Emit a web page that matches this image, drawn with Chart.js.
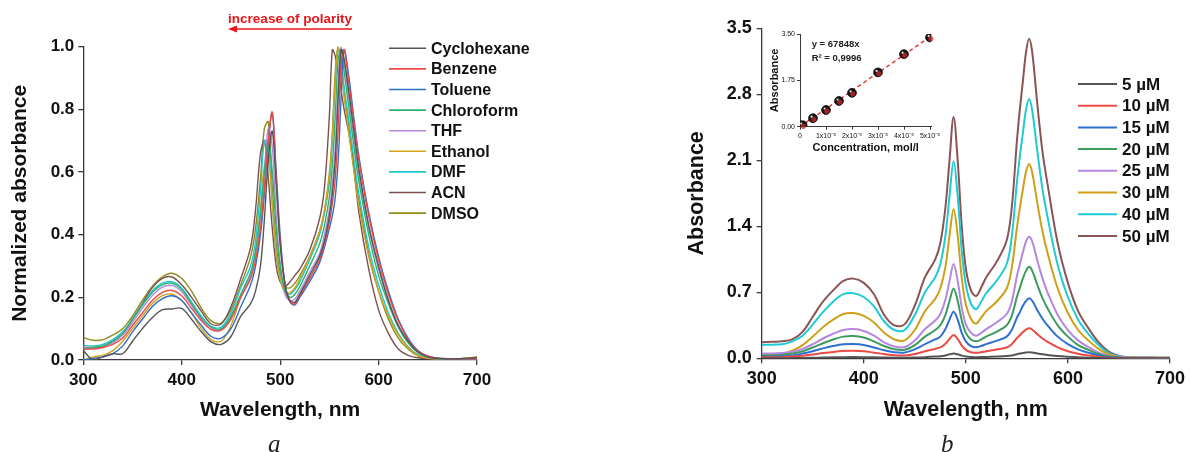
<!DOCTYPE html>
<html>
<head>
<meta charset="utf-8">
<script src="https://cdn.jsdelivr.net/npm/chart.js@4.4.1/dist/chart.umd.min.js"></script>
<style>
  html, body { margin: 0; padding: 0; background: #fff; }
  #wrap { position: relative; width: 1190px; height: 452px; overflow: hidden; }
  canvas { position: absolute; }
  .lbl { position: absolute; font-family: "Liberation Serif", "DejaVu Serif", serif; font-style: italic; font-size: 25px; color: #222; line-height: 1; }
</style>
</head>
<body>
<div id="wrap">
  <canvas id="chartA" width="680" height="452" style="left:0;top:0"></canvas>
  <canvas id="chartB" width="510" height="452" style="left:680px;top:0"></canvas>
  <canvas id="inset" width="180" height="135" style="left:765px;top:25px"></canvas>
  <div class="lbl" style="left:268px;top:431px">a</div>
  <div class="lbl" style="left:941px;top:431px">b</div>
</div>
<script>
const FONT = '"Liberation Sans", Arial, sans-serif';

// shared wavelength grid, nm
const wavelengths = [300,310,320,330,340,350,360,370,380,390,400,410,420,430,440,
  450,460,470, 475,480,484,488,492,496,500, 505,510,515,520, 530,540,545,550,
  553,556,559,562,565, 570,575,580, 590,600,610,620,630,640,650,660,680,700];

// ---- panel a: normalized absorbance in different solvents
const solvents = ['Cyclohexane','Benzene','Toluene','Chloroform','THF','Ethanol','DMF','ACN','DMSO'];
const solventColors = ['#555555','#ec4a45','#2f6fd0','#2db36e','#b487e0','#d2a21c','#1cc9d2','#7d5050','#8f8c1a'];

const cyclohexane = [0.03,0.0,0.01,0.02,0.02,0.06,0.1,0.135,0.16,0.163,0.165,0.13,0.09,0.058,0.05,
  0.075,0.14,0.18, 0.22,0.3,0.45,0.64,0.73,0.56,0.37, 0.24,0.19,0.185,0.21, 0.27,0.33,0.38,0.46,
  0.53,0.64,0.84,0.99,0.96, 0.85,0.73,0.61, 0.43,0.3,0.19,0.11,0.06,0.025,0.01,0.005,0.004,0.008];
const benzene = [0.035,0.035,0.04,0.05,0.07,0.11,0.15,0.19,0.215,0.222,0.205,0.165,0.125,0.097,0.095,
  0.13,0.2,0.26, 0.32,0.42,0.55,0.7,0.79,0.58,0.38, 0.24,0.185,0.18,0.205, 0.26,0.32,0.37,0.44,
  0.5,0.58,0.74,0.95,0.99, 0.88,0.76,0.64, 0.46,0.32,0.21,0.125,0.065,0.028,0.012,0.006,0.004,0.004];
const toluene = [0.0,0.005,0.01,0.02,0.045,0.09,0.13,0.17,0.195,0.205,0.19,0.15,0.11,0.075,0.07,
  0.1,0.17,0.24, 0.3,0.4,0.53,0.7,0.79,0.6,0.4, 0.24,0.185,0.176,0.2, 0.25,0.31,0.36,0.42,
  0.46,0.52,0.64,0.84,0.99, 0.9,0.77,0.65, 0.47,0.33,0.22,0.13,0.07,0.03,0.012,0.006,0.004,0.004];
const chloroform = [0.035,0.04,0.045,0.06,0.085,0.13,0.175,0.215,0.24,0.245,0.225,0.18,0.135,0.105,0.1,
  0.14,0.21,0.28, 0.35,0.47,0.6,0.7,0.6,0.42,0.3, 0.22,0.2,0.21,0.235, 0.3,0.37,0.43,0.52,
  0.62,0.78,0.96,0.99,0.92, 0.8,0.68,0.57, 0.4,0.27,0.18,0.105,0.055,0.024,0.01,0.005,0.004,0.004];
const thf = [0.04,0.04,0.045,0.055,0.08,0.12,0.165,0.205,0.232,0.238,0.218,0.175,0.13,0.1,0.097,
  0.135,0.205,0.27, 0.33,0.45,0.6,0.74,0.68,0.46,0.31, 0.21,0.19,0.195,0.22, 0.28,0.34,0.4,0.48,
  0.56,0.68,0.88,1.0,0.95, 0.83,0.71,0.59, 0.42,0.29,0.19,0.11,0.058,0.025,0.01,0.005,0.004,0.004];
const ethanol = [0.0,0.01,0.015,0.03,0.06,0.1,0.14,0.18,0.205,0.21,0.19,0.15,0.1,0.065,0.06,
  0.11,0.2,0.27, 0.34,0.48,0.62,0.64,0.5,0.34,0.26, 0.215,0.215,0.23,0.26, 0.33,0.41,0.48,0.6,
  0.72,0.9,1.0,0.93,0.84, 0.72,0.6,0.49, 0.33,0.22,0.14,0.08,0.04,0.015,0.006,0.004,0.004,0.01];
const dmf = [0.047,0.045,0.05,0.065,0.09,0.13,0.175,0.22,0.245,0.25,0.23,0.185,0.14,0.107,0.105,
  0.15,0.23,0.3, 0.38,0.54,0.7,0.68,0.5,0.34,0.26, 0.215,0.21,0.225,0.25, 0.32,0.4,0.47,0.58,
  0.7,0.88,0.99,0.96,0.87, 0.76,0.64,0.53, 0.36,0.24,0.15,0.085,0.042,0.017,0.007,0.004,0.004,0.004];
const acn = [0.04,0.04,0.042,0.06,0.085,0.13,0.18,0.23,0.26,0.265,0.24,0.2,0.155,0.115,0.115,
  0.17,0.26,0.36, 0.48,0.66,0.7,0.58,0.42,0.3,0.25, 0.235,0.25,0.27,0.29, 0.35,0.45,0.55,0.78,
  0.99,0.97,0.92,0.86,0.8, 0.72,0.61,0.47, 0.29,0.16,0.085,0.035,0.015,0.007,0.004,0.003,0.003,0.003];
const dmso = [0.072,0.063,0.065,0.08,0.1,0.14,0.19,0.235,0.265,0.277,0.26,0.22,0.165,0.125,0.118,
  0.16,0.24,0.33, 0.42,0.58,0.74,0.76,0.55,0.37,0.28, 0.235,0.23,0.245,0.27, 0.33,0.41,0.47,0.57,
  0.72,0.92,1.0,0.94,0.86, 0.74,0.62,0.51, 0.34,0.22,0.13,0.07,0.035,0.013,0.006,0.004,0.004,0.006];
const solventSeries = [cyclohexane, benzene, toluene, chloroform, thf, ethanol, dmf, acn, dmso];

// ---- panel b: absorbance at different concentrations
const concLabels = ['5 µM','10 µM','15 µM','20 µM','25 µM','30 µM','40 µM','50 µM'];
const concColors = ['#555555','#ec4a45','#2f6fd0','#3c9c5e','#b487e0','#cfa017','#1ccbd4','#8a5454'];

const c5 = [0.0,0.0,0.0,0.002,0.004,0.006,0.008,0.01,0.012,0.013,0.012,0.01,0.008,0.006,0.006,
  0.008,0.012,0.018, 0.022,0.03,0.042,0.05,0.042,0.028,0.018, 0.013,0.012,0.013,0.015, 0.019,0.024,0.03,0.044,
  0.05,0.057,0.062,0.065,0.062, 0.052,0.043,0.036, 0.024,0.016,0.01,0.006,0.003,0.001,0,0,0,0];
const c10 = [0.01,0.01,0.012,0.018,0.028,0.04,0.055,0.068,0.077,0.08,0.075,0.06,0.045,0.032,0.03,
  0.045,0.075,0.1, 0.115,0.155,0.205,0.247,0.205,0.135,0.09, 0.065,0.058,0.065,0.075, 0.093,0.115,0.15,0.215,
  0.245,0.28,0.305,0.318,0.305, 0.255,0.21,0.175, 0.115,0.075,0.048,0.03,0.015,0.006,0.003,0.002,0.002,0.002];
const c15 = [0.02,0.02,0.022,0.03,0.05,0.075,0.105,0.13,0.148,0.152,0.142,0.115,0.085,0.065,0.062,
  0.095,0.15,0.2, 0.23,0.31,0.41,0.494,0.41,0.27,0.18, 0.13,0.117,0.13,0.15, 0.185,0.23,0.3,0.43,
  0.49,0.56,0.61,0.636,0.61, 0.51,0.42,0.35, 0.23,0.15,0.095,0.06,0.03,0.012,0.005,0.003,0.003,0.003];
const c20 = [0.03,0.03,0.035,0.05,0.075,0.115,0.16,0.2,0.23,0.237,0.22,0.18,0.13,0.095,0.09,
  0.14,0.23,0.3, 0.35,0.46,0.61,0.74,0.61,0.4,0.27, 0.2,0.18,0.2,0.23, 0.28,0.35,0.45,0.65,
  0.75,0.85,0.93,0.97,0.93, 0.78,0.64,0.53, 0.35,0.23,0.14,0.09,0.045,0.018,0.007,0.004,0.004,0.003];
const c25 = [0.05,0.05,0.055,0.07,0.1,0.15,0.21,0.26,0.3,0.31,0.29,0.24,0.17,0.125,0.12,
  0.19,0.31,0.4, 0.47,0.62,0.82,1.0,0.82,0.54,0.36, 0.27,0.24,0.27,0.31, 0.38,0.47,0.6,0.87,
  1.0,1.13,1.24,1.29,1.24, 1.04,0.85,0.7, 0.46,0.3,0.19,0.12,0.06,0.025,0.01,0.006,0.005,0.004];
const c30 = [0.04,0.045,0.05,0.08,0.14,0.23,0.33,0.41,0.47,0.48,0.45,0.38,0.27,0.2,0.19,
  0.3,0.5,0.63, 0.74,0.97,1.3,1.58,1.3,0.85,0.57, 0.42,0.37,0.43,0.5, 0.6,0.74,0.96,1.38,
  1.6,1.8,1.98,2.06,1.97, 1.65,1.35,1.12, 0.74,0.48,0.3,0.19,0.1,0.04,0.015,0.008,0.006,0.005];
const c40 = [0.14,0.145,0.15,0.18,0.24,0.36,0.49,0.6,0.68,0.69,0.65,0.55,0.39,0.3,0.3,
  0.46,0.7,0.86, 1.0,1.3,1.72,2.09,1.72,1.14,0.78, 0.58,0.52,0.6,0.69, 0.82,1.0,1.29,1.86,
  2.15,2.4,2.64,2.75,2.63, 2.2,1.8,1.5, 0.99,0.65,0.41,0.26,0.14,0.055,0.02,0.01,0.008,0.006];
const c50 = [0.17,0.175,0.18,0.2,0.28,0.44,0.6,0.72,0.82,0.845,0.8,0.68,0.46,0.35,0.36,
  0.56,0.86,1.05, 1.22,1.6,2.1,2.56,2.1,1.4,0.95, 0.72,0.66,0.75,0.86, 1.02,1.25,1.6,2.3,
  2.65,2.95,3.25,3.39,3.25, 2.7,2.2,1.85, 1.22,0.8,0.5,0.32,0.17,0.07,0.025,0.012,0.008,0.006];
const concSeries = [c5, c10, c15, c20, c25, c30, c40, c50];

// ---- inset: calibration plot
const insetConc = [0.1e-5, 0.5e-5, 1e-5, 1.5e-5, 2e-5, 3e-5, 4e-5, 5e-5];
const insetAbs = [0.06, 0.32, 0.63, 0.97, 1.28, 2.05, 2.74, 3.37];
const fitConc = [0, 5e-5];
const fitAbs = [0, 3.39];

// tick values
const xTicks = [300, 400, 500, 600, 700];
const yTicksA = [0, 0.2, 0.4, 0.6, 0.8, 1.0];
const yTicksB = [0, 0.7, 1.4, 2.1, 2.8, 3.5];
const insetXTicks = [0, 1e-5, 2e-5, 3e-5, 4e-5, 5e-5];
const insetYTicks = [0, 1.75, 3.5];

const pts = ys => wavelengths.map((x, i) => ({ x: x, y: ys[i] }));

function legendPlugin(key, o) {
  return {
    id: 'legend_' + key,
    afterDraw(chart) {
      const ctx = chart.ctx;
      ctx.save();
      ctx.font = o.font;
      ctx.textBaseline = 'middle';
      ctx.fillStyle = '#111';
      chart.data.datasets.forEach((ds, i) => {
        const y = o.y0 + i * o.dy;
        ctx.strokeStyle = ds.borderColor;
        ctx.lineWidth = o.lw;
        ctx.beginPath();
        ctx.moveTo(o.x0, y);
        ctx.lineTo(o.x0 + o.len, y);
        ctx.stroke();
        ctx.fillText(ds.label, o.x0 + o.len + o.gap, y + 1);
      });
      ctx.restore();
    }
  };
}

const polarityNote = {
  id: 'polarity',
  afterDraw(chart) {
    const ctx = chart.ctx;
    ctx.save();
    ctx.fillStyle = '#e8161a';
    ctx.strokeStyle = '#e8161a';
    ctx.font = 'bold 13.5px ' + FONT;
    ctx.textAlign = 'center';
    ctx.textBaseline = 'middle';
    ctx.fillText('increase of polarity', 290, 19);
    ctx.lineWidth = 1.6;
    ctx.beginPath();
    ctx.moveTo(352, 29);
    ctx.lineTo(234, 29);
    ctx.stroke();
    ctx.beginPath();
    ctx.moveTo(228, 29);
    ctx.lineTo(237, 25.5);
    ctx.lineTo(237, 32.5);
    ctx.closePath();
    ctx.fill();
    ctx.restore();
  }
};

function axis(o) {
  return {
    type: 'linear',
    min: o.min, max: o.max,
    afterBuildTicks: s => { s.ticks = o.ticks.map(v => ({ value: v })); },
    afterFit: s => { if (o.width !== undefined) s.width = o.width; if (o.height !== undefined) s.height = o.height; },
    ticks: { font: { family: FONT, size: o.tickSize, weight: o.tickWeight || 'bold' }, color: '#111', padding: o.tickPad, callback: o.fmt, maxRotation: 0, autoSkip: false },
    grid: { drawOnChartArea: false, tickLength: o.tickLen, color: '#3a3a3a', lineWidth: o.lw },
    border: { color: '#3a3a3a', width: o.lw },
    title: { display: true, text: o.title, color: '#111', padding: 0, font: { family: FONT, size: o.titleSize, weight: 'bold', lineHeight: 1 } }
  };
}

const common = {
  responsive: false,
  animation: false,
  events: [],
  plugins: { legend: { display: false }, tooltip: { enabled: false } }
};

new Chart(document.getElementById('chartA'), {
  type: 'line',
  data: {
    datasets: solvents.map((name, i) => ({
      label: name,
      data: pts(solventSeries[i]),
      borderColor: solventColors[i],
      borderWidth: 1.4,
      pointRadius: 0,
      tension: 0.35,
      fill: false
    }))
  },
  options: Object.assign({}, common, {
    layout: { padding: { left: 9.5, top: 46.7, right: 203, bottom: 31.5 } },
    scales: {
      x: axis({ min: 300, max: 700, ticks: xTicks, height: 60.5, tickSize: 17, tickPad: 5, tickLen: 5, lw: 1.3,
        title: 'Wavelength, nm', titleSize: 21, fmt: v => String(v) }),
      y: axis({ min: 0, max: 1, ticks: yTicksA, width: 73.8, tickSize: 17, tickPad: 4, tickLen: 5, lw: 1.3,
        title: 'Normalized absorbance', titleSize: 21, fmt: v => v.toFixed(1) })
    }
  }),
  plugins: [legendPlugin('a', { x0: 389, len: 37, gap: 5, y0: 48.3, dy: 20.6, lw: 1.6, font: 'bold 16px ' + FONT }), polarityNote]
});

new Chart(document.getElementById('chartB'), {
  type: 'line',
  data: {
    datasets: concLabels.map((name, i) => ({
      label: name,
      data: pts(concSeries[i]),
      borderColor: concColors[i],
      borderWidth: 2,
      pointRadius: 0,
      tension: 0.35,
      fill: false
    }))
  },
  options: Object.assign({}, common, {
    layout: { padding: { left: 6.5, top: 28.3, right: 17, bottom: 31 } },
    scales: {
      x: axis({ min: 300, max: 700, ticks: xTicks, height: 62.7, tickSize: 18, tickPad: 5, tickLen: 5, lw: 1.3,
        title: 'Wavelength, nm', titleSize: 21.5, fmt: v => String(v) }),
      y: axis({ min: 0, max: 3.5, ticks: yTicksB, width: 75.2, tickSize: 18, tickPad: 5, tickLen: 5, lw: 1.3,
        title: 'Absorbance', titleSize: 21.5, fmt: v => v.toFixed(1) })
    }
  }),
  plugins: [legendPlugin('b', { x0: 398, len: 39, gap: 5, y0: 84, dy: 21.7, lw: 2, font: 'bold 17px ' + FONT })]
});

const insetDecor = {
  id: 'insetDecor',
  afterDatasetsDraw(chart) {
    const ctx = chart.ctx;
    const meta = chart.getDatasetMeta(0);
    ctx.save();
    meta.data.forEach(p => {
      ctx.fillStyle = 'rgba(200,40,40,0.75)';
      ctx.beginPath();
      ctx.arc(p.x + 0.8, p.y + 1.2, 2.6, 0, Math.PI * 2);
      ctx.fill();
      ctx.fillStyle = 'rgba(255,255,255,0.85)';
      ctx.beginPath();
      ctx.arc(p.x - 1.4, p.y - 1.5, 1.1, 0, Math.PI * 2);
      ctx.fill();
    });
    ctx.fillStyle = '#222';
    ctx.font = 'bold 9.5px ' + FONT;
    ctx.textBaseline = 'middle';
    ctx.fillText('y = 67848x', 46.7, 19.5);
    ctx.fillText('R² = 0,9996', 46.7, 33.5);
    ctx.restore();
  }
};

new Chart(document.getElementById('inset'), {
  type: 'scatter',
  data: {
    datasets: [
      {
        label: 'points',
        data: insetConc.map((x, i) => ({ x: x, y: insetAbs[i] })),
        pointRadius: 4.4,
        pointBackgroundColor: '#151515',
        pointBorderColor: '#000',
        pointBorderWidth: 0.8
      },
      {
        label: 'fit',
        type: 'line',
        data: fitConc.map((x, i) => ({ x: x, y: fitAbs[i] })),
        borderColor: '#e23a3a',
        borderWidth: 1.5,
        borderDash: [4, 3],
        pointRadius: 0,
        fill: false
      }
    ]
  },
  options: Object.assign({}, common, {
    layout: { padding: { left: 4.5, top: 9, right: 13.7, bottom: 6.2 } },
    scales: {
      x: axis({ min: 0, max: 5.05e-5, ticks: insetXTicks, height: 27.1, tickSize: 7, tickWeight: 'normal', tickPad: 2, tickLen: 3, lw: 1,
        title: 'Concentration, mol/l', titleSize: 11, fmt: v => v === 0 ? '0' : Math.round(v * 1e5) + 'x10⁻⁵' }),
      y: axis({ min: 0, max: 3.5, ticks: insetYTicks, width: 30.5, tickSize: 7, tickWeight: 'normal', tickPad: 2, tickLen: 3, lw: 1,
        title: 'Absorbance', titleSize: 11, fmt: v => v.toFixed(2) })
    }
  }),
  plugins: [insetDecor]
});
</script>
</body>
</html>
